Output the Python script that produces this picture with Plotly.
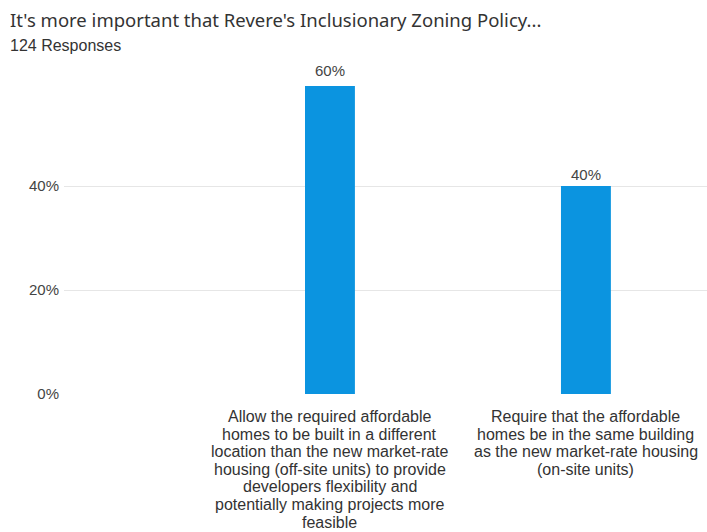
import plotly.graph_objects as go

# Survey answers (one list of text lines per answer) and share of responses (%)
category_lines = [
    [
        "Allow the required affordable",
        "homes to be built in a different",
        "location than the new market-rate",
        "housing (off-site units) to provide",
        "developers flexibility and",
        "potentially making projects more",
        "feasible",
    ],
    [
        "Require that the affordable",
        "homes be in the same building",
        "as the new market-rate housing",
        "(on-site units)",
    ],
]
shares = [60, 40]
share_labels = ["60%", "40%"]
y_ticks = [0, 20, 40]
y_tick_labels = ["0%", "20%", "40%"]

title_text = "It's more important that Revere's Inclusionary Zoning Policy..."
subtitle_text = "124 Responses"

BASE_FONT = "Liberation Sans, Arial, sans-serif"
Y_MAX = 59.23  # top of the value axis; taller bars are clipped there
x_pos = list(range(len(shares)))

fig = go.Figure(
    go.Bar(
        x=x_pos,
        y=shares,
        width=0.195,
        marker=dict(color="#0b94e0", line=dict(width=0)),
        hoverinfo="skip",
    )
)

fig.update_layout(
    width=707,
    height=532,
    margin=dict(l=64, r=0, t=86, b=138),
    paper_bgcolor="white",
    plot_bgcolor="white",
    showlegend=False,
    font=dict(family=BASE_FONT, size=15, color="#333333"),
)

fig.update_xaxes(
    range=[-1.039, 1.473],
    showticklabels=False,
    showgrid=False,
    zeroline=False,
    showline=False,
    ticks="",
    fixedrange=True,
)

fig.update_yaxes(
    range=[0, Y_MAX],
    tickmode="array",
    tickvals=y_ticks,
    ticktext=y_tick_labels,
    showgrid=True,
    gridcolor="#e6e6e6",
    gridwidth=1,
    zeroline=False,
    showline=False,
    ticks="",
    ticklabelstandoff=4,
    tickfont=dict(family=BASE_FONT, size=15, color="#444444"),
    fixedrange=True,
)

# Value labels above the bars (paper y so labels above the axis top still show)
for xi, val, lab in zip(x_pos, shares, share_labels):
    fig.add_annotation(
        x=xi, y=val / Y_MAX, xref="x", yref="paper",
        text=lab, showarrow=False,
        xanchor="center", yanchor="bottom", yshift=1,
        font=dict(family=BASE_FONT, size=15, color="#444444"),
    )

# Category labels under the axis, one line at a time for tight leading
for xi, lines in zip(x_pos, category_lines):
    for i, line in enumerate(lines):
        fig.add_annotation(
            x=xi, y=0, xref="x", yref="paper",
            text=line, showarrow=False, borderpad=0,
            xanchor="center", yanchor="middle",
            yshift=-(22.5 + 17.6 * i),
            font=dict(family=BASE_FONT, size=16, color="#333333"),
        )

fig.add_annotation(
    text=title_text,
    xref="paper", yref="paper", x=0, y=1,
    xanchor="left", yanchor="middle",
    xshift=-56, yshift=86 - 19,
    showarrow=False,
    font=dict(family="Noto Sans, sans-serif", size=18.5, color="#333333"),
)
fig.add_annotation(
    text=subtitle_text,
    xref="paper", yref="paper", x=0, y=1,
    xanchor="left", yanchor="middle",
    xshift=-56, yshift=86 - 45,
    showarrow=False,
    font=dict(family=BASE_FONT, size=16, color="#333333"),
)

fig.write_html("out.html")
